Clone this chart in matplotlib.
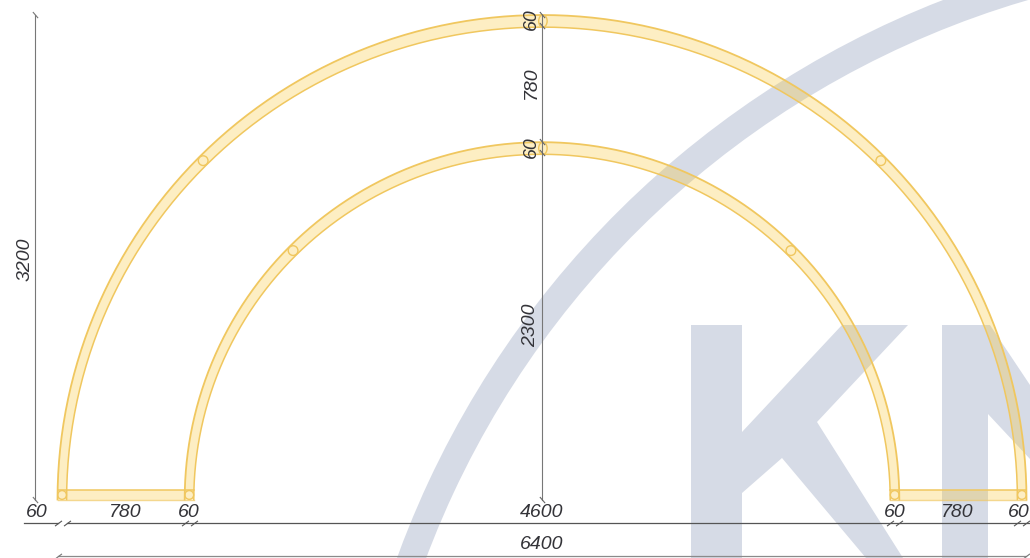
import numpy as np
import matplotlib
matplotlib.use("Agg")
import matplotlib.pyplot as plt
from matplotlib.patches import Wedge, Polygon, Rectangle, Ellipse
from matplotlib.path import Path

# ---- values (millimetres) ----
outer_radius = 3200
inner_radius = 2360
tube = 60
crown_tube = 80
joint_angles = [45, 135]
overall_width = 6400
overall_height = 3200
h_tick_positions = [-3200, -3140, -2360, -2300, 2300, 2360, 3140, 3200]
v_tick_positions = [3200, 3130, 2360, 2290]
h_labels = ["60", "780", "60", "4600", "60", "780", "60"]
h_label_pos = [-3340, -2755, -2330, 0, 2330, 2740, 3150]
v_labels = ["60", "780", "60", "2300"]
v_label_pos = [3170, 2750, 2330, 1150]

# ---- watermark outlines (image pixels) ----
wm_k_stem = [(691, 325), (742, 325), (742, 558), (691, 558)]
wm_k_arms = [(842, 325), (908, 325), (817, 422), (903, 558), (866, 558),
             (782, 458), (742, 493), (742, 432)]
wm_n = [(942, 325), (990, 325), (1030, 385), (1030, 459), (988, 414),
        (988, 558), (942, 558)]
wm_arc_centre = (1285.4, 881.2)
wm_arc_radii = (945.4, 918)

WM = "#D6DBE6"
FILL = (248 / 255, 195 / 255, 35 / 255, 0.27)
EDGE = "#F0C75F"
TEXT = "#333338"
family = "Liberation Sans"
FS = 14

fig = plt.figure(figsize=(10.30, 5.58), dpi=100, facecolor="white")

# watermark layer, in image pixels
bg = fig.add_axes([0, 0, 1, 1])
bg.set_xlim(0, 1030)
bg.set_ylim(558, 0)
bg.axis("off")
for pts in (wm_k_stem, wm_k_arms, wm_n):
    bg.add_patch(Polygon(pts, closed=True, fc=WM, ec="none"))
bg.add_patch(Wedge(wm_arc_centre, wm_arc_radii[0], 180, 280,
                   width=wm_arc_radii[0] - wm_arc_radii[1], fc=WM, ec="none"))

# drawing layer, in millimetres
scale = 0.1514
ox, oy = 542.0, 499.5
ax = fig.add_axes([0, 0, 1, 1])
ax.set_xlim(-ox / scale, (1030 - ox) / scale)
ax.set_ylim((oy - 558) / scale, oy / scale)
ax.axis("off")
ax.patch.set_alpha(0)

t = np.radians(np.linspace(0, 180, 361))
for r in (outer_radius, inner_radius):
    ox_, oy_ = r * np.cos(t), r * np.sin(t)
    ix_, iy_ = (r - tube) * np.cos(t), (r - crown_tube) * np.sin(t)
    ax.add_patch(Polygon(np.vstack([np.c_[ox_, oy_], np.c_[ix_, iy_][::-1]]),
                         closed=True, fc=FILL, ec="none", zorder=2))
    ax.plot(ox_, oy_, color=EDGE, lw=1.3, zorder=3)
    ax.plot(ix_, iy_, color=EDGE, lw=1.1, zorder=3)
    # joints on the arch
    for a in joint_angles:
        c = r - 35
        ax.add_patch(Ellipse((c * np.cos(np.radians(a)), c * np.sin(np.radians(a))), 64, 64,
                             fc="none", ec=EDGE, lw=1.0, zorder=4))
    ax.add_patch(Ellipse((6, r - crown_tube / 2), 56, 80, fc="none", ec=EDGE, lw=1.0, zorder=4))
    # joints at the foot
    for sign in (-1, 1):
        ax.add_patch(Ellipse((sign * (r - tube / 2), tube / 2), 58, 58,
                             fc="none", ec=EDGE, lw=1.0, zorder=4))

for sign in (-1, 1):
    x0 = min(sign * outer_radius, sign * (inner_radius - tube))
    w = outer_radius - inner_radius + tube
    # the fill stops at the two legs, which already carry their own fill
    ax.add_patch(Rectangle((x0 + tube, 0), w - 2 * tube, tube, fc=FILL, ec="none", zorder=2))
    ax.plot([x0, x0 + w], [tube, tube], color=EDGE, lw=1.1, zorder=3)
    ax.plot([x0, x0 + w], [0, 0], color=EDGE, lw=1.0, alpha=0.7, zorder=3)

slash_h = Path([(-1, -0.75), (1, 0.75)], [Path.MOVETO, Path.LINETO])
slash_v = Path([(-0.75, 1), (0.75, -0.75)], [Path.MOVETO, Path.LINETO])

# horizontal dimension chain
dim_y = -156
ax.plot([-3420, -3200], [dim_y, dim_y], color="#555555", lw=0.9, zorder=5)
ax.plot([-3140, (1030 - ox) / scale], [dim_y, dim_y], color="#555555", lw=0.9, zorder=5)
ax.plot(h_tick_positions, [dim_y] * len(h_tick_positions), ls="none", marker=slash_h,
        ms=5, mew=0.8, mec="#555555", zorder=5)

# overall width
dim2_y = -374
ax.plot([-overall_width / 2, overall_width / 2], [dim2_y, dim2_y], color="#8A8A8A", lw=0.9, zorder=5)
ax.plot([-overall_width / 2, overall_width / 2], [dim2_y, dim2_y], ls="none", marker=slash_h,
        ms=5, mew=0.8, mec="#777777", zorder=5)

# overall height, left
left_x = -3349
ax.plot([left_x, left_x], [0, overall_height], color="#777777", lw=0.8, zorder=5)
ax.plot([left_x, left_x], [0, overall_height], ls="none", marker=slash_v,
        ms=5, mew=0.8, mec="#777777", zorder=5)

# centre vertical dimension
ax.plot([0, 0], [0, overall_height], color="#777777", lw=0.8, zorder=5)
ax.plot([0] * (len(v_tick_positions) + 1), v_tick_positions + [0], ls="none", marker=slash_v,
        ms=5, mew=0.8, mec="#666666", zorder=5)

txt = dict(family=family, style="italic", fontsize=FS, color=TEXT, zorder=6)
for s, x in zip(h_labels, h_label_pos):
    ax.text(x, -86, s, ha="center", va="center", **txt)
ax.text(0, -295, str(overall_width), ha="center", va="center", **txt)
for s, y in zip(v_labels, v_label_pos):
    ax.text(-72, y, s, rotation=90, ha="center", va="center", **txt)
ax.text(-3412, 1590, str(overall_height), rotation=90, ha="center", va="center", **txt)

fig.savefig("out.png", dpi=100, facecolor="white")
